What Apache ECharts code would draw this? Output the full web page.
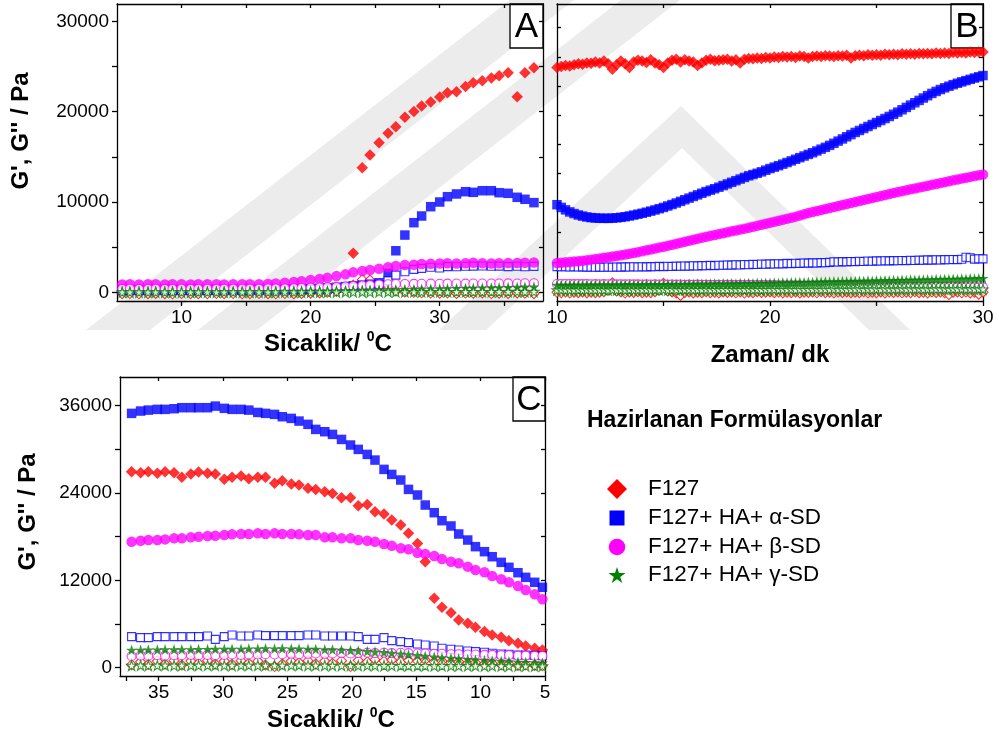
<!DOCTYPE html>
<html>
<head>
<meta charset="utf-8">
<script src="https://cdn.jsdelivr.net/npm/echarts@6/dist/echarts.min.js"></script>
<style>
html, body { margin: 0; padding: 0; background: #fff; }
#chart { width: 999px; height: 735px; }
</style>
</head>
<body>
<div id="chart"></div>
<script>
// ---------- Panel A: heating sweep (temperature, °C) ----------
const tempA = [5.4, 6.0, 6.7, 7.4, 8.0, 8.7, 9.3, 10.0, 10.7, 11.3, 12.0, 12.7, 13.3, 14.0, 14.7, 15.3, 16.0, 16.7, 17.3, 18.0,
  18.7, 19.3, 20.0, 20.7, 21.3, 22.0, 22.7, 23.3, 24.0, 24.6, 25.3, 26.0, 26.6, 27.3, 28.0, 28.6, 29.3, 30.0, 30.6, 31.3,
  32.0, 32.6, 33.3, 34.0, 34.6, 35.3, 36.0, 36.6, 37.3];
const a_F127_Gp = [60, 50, 70, 60, 50, 60, 70, 50, 60, 60, 70, 50, 60, 60, 70, 60, 50, 60, 70, 60,
  60, 80, 70, 90, 100, 150, 300, 4320, 13800, 15200, 16560, 17600, 18330, 19370, 20030, 20620, 21070, 21620, 22100, 22210,
  22800, 23200, 23430, 23720, 23980, 24310, 21650, 24320, 24870];
const a_F127_Gpp = [-150, -140, -160, -150, -130, -150, -160, -140, -150, -150, -160, -140, -150, -140, -160, -150, -140, -150, -160, -140,
  -150, -120, -100, -60, 0, 150, 400, 800, 1400, 1360, 650, 300, 150, 50, 0, -50, -80, -100, -60, -120,
  -80, -100, -60, -140, -100, -120, -60, -100, -150];
const a_alpha_Gp = [300, 320, 300, 310, 330, 320, 300, 310, 320, 330, 310, 320, 330, 340, 320, 330, 350, 340, 360, 370,
  380, 400, 420, 450, 500, 560, 640, 720, 800, 900, 1060, 2100, 4600, 6340, 7710, 8450, 9480, 10000, 10590, 10890,
  11140, 11070, 11250, 11250, 11030, 10960, 10520, 10300, 9930];
const a_alpha_Gpp = [200, 220, 210, 200, 230, 220, 210, 200, 220, 230, 210, 220, 230, 240, 220, 230, 240, 250, 260, 270,
  280, 300, 320, 350, 380, 420, 480, 550, 620, 700, 850, 1300, 1900, 2280, 2540, 2650, 2770, 2700, 2850, 2830,
  2880, 2900, 2920, 2880, 2900, 2850, 2880, 2830, 2870];
const a_beta_Gp = [880, 890, 880, 885, 890, 880, 885, 890, 880, 885, 890, 885, 880, 890, 885, 890, 900, 930, 990, 1060,
  1150, 1230, 1360, 1470, 1620, 1800, 1990, 2210, 2360, 2470, 2610, 2770, 2910, 3020, 3060, 3130, 3170, 3200, 3210, 3200,
  3220, 3280, 3230, 3200, 3220, 3240, 3250, 3280, 3300];
const a_beta_Gpp = [380, 390, 380, 385, 390, 380, 385, 390, 380, 385, 390, 385, 390, 395, 400, 405, 410, 420, 430, 440,
  460, 480, 500, 530, 560, 600, 650, 700, 770, 820, 870, 900, 920, 930, 940, 950, 960, 950, 960, 970,
  960, 970, 980, 970, 980, 990, 980, 1000, 1010];
const a_gamma_Gp = [80, 90, 80, 90, 100, 90, 80, 90, 100, 90, 80, 90, 100, 110, 100, 110, 120, 110, 120, 130,
  140, 150, 160, 170, 180, 200, 210, 230, 250, 260, 280, 300, 320, 330, 350, 370, 390, 400, 420, 440,
  460, 480, 500, 520, 540, 560, 580, 600, 620];
const a_gamma_Gpp = [10, 15, 10, 12, 15, 10, 12, 15, 10, 12, 15, 10, 12, 15, 18, 20, 15, 18, 20, 22,
  25, 20, 25, 30, 28, 30, 35, 40, 45, 40, 50, 55, 50, 55, 60, 55, 60, 65, 60, 65,
  70, 65, 70, 75, 70, 75, 80, 75, 80];

// ---------- Panel B: time sweep at 37 °C (min) ----------
const timeB = [10, 10.2, 10.4, 10.6, 10.8, 11, 11.2, 11.4, 11.6, 11.8,
  12, 12.2, 12.4, 12.6, 12.8, 13, 13.2, 13.4, 13.6, 13.8,
  14, 14.2, 14.4, 14.6, 14.8, 15, 15.2, 15.4, 15.6, 15.8,
  16, 16.2, 16.4, 16.6, 16.8, 17, 17.2, 17.4, 17.6, 17.8,
  18, 18.2, 18.4, 18.6, 18.8, 19, 19.2, 19.4, 19.6, 19.8,
  20, 20.2, 20.4, 20.6, 20.8, 21, 21.2, 21.4, 21.6, 21.8,
  22, 22.2, 22.4, 22.6, 22.8, 23, 23.2, 23.4, 23.6, 23.8,
  24, 24.2, 24.4, 24.6, 24.8, 25, 25.2, 25.4, 25.6, 25.8,
  26, 26.2, 26.4, 26.6, 26.8, 27, 27.2, 27.4, 27.6, 27.8,
  28, 28.2, 28.4, 28.6, 28.8, 29, 29.2, 29.4, 29.6, 29.8, 30];
const b_F127_Gp = [24900, 25000, 25100, 25050, 25200, 25300, 25250, 25400, 25350, 25500,
  25400, 25600, 25300, 24700, 25200, 25600, 25300, 24900, 25500, 25700,
  25600, 25450, 25750, 25400, 25200, 24900, 25400, 25700, 25800, 25500,
  25750, 25600, 25500, 25100, 25400, 25700, 25800, 25650, 25700, 25750,
  25800, 25600, 25750, 25400, 25800, 25900, 25850, 25950, 25900, 26000,
  25950, 26050, 26000, 26100, 26050, 26100, 26000, 26150, 26100, 25950,
  26100, 26150, 26100, 26200, 26150, 26100, 26200, 26150, 26250, 25950,
  26200, 26250, 26200, 26300, 26250, 26300, 26250, 26350, 26300, 26350,
  26300, 26400, 26350, 26400, 26350, 26450, 26400, 26450, 26400, 26500,
  26450, 26500, 26450, 26550, 26500, 26550, 26500, 26600, 26550, 26600, 26600];
const b_F127_Gpp = [0, -50, 30, -80, 20, -40, 50, -60, 10, -30,
  20, 60, 250, 1050, 150, 30, -80, 40, -20, 60,
  -40, 20, -30, 60, 250, 1000, 150, 40, -60, -350,
  -20, 50, -70, 20, -40, 60, -30, 10, -60, 40,
  -10, 50, -50, 30, -80, 20, -40, 60, -20, 10,
  50, -40, 30, -60, 10, -30, 50, -70, 20, -10,
  40, -50, 60, -30, 20, -60, 30, -20, 50, -40,
  10, -30, 60, -50, 20, -40, 50, -60, 30, -20,
  40, -50, 20, -30, 60, -40, 10, -60, 30, -20,
  50, -30, -250, 20, 40, -50, 30, -60, 20, -200, 20];
const b_alpha_Gp = [9700, 9400, 9130, 8900, 8720, 8560, 8440, 8340, 8270, 8230,
  8200, 8190, 8190, 8210, 8250, 8300, 8370, 8450, 8550, 8650,
  8750, 8870, 8990, 9120, 9260, 9400, 9560, 9720, 9890, 10070,
  10250, 10430, 10610, 10790, 10970, 11150, 11310, 11470, 11640, 11820,
  12000, 12180, 12360, 12540, 12720, 12900, 13040, 13180, 13340, 13520,
  13700, 13860, 14020, 14190, 14370, 14550, 14730, 14910, 15090, 15270,
  15450, 15650, 15850, 16050, 16270, 16500, 16740, 16980, 17220, 17460,
  17700, 17920, 18140, 18360, 18580, 18800, 19020, 19240, 19470, 19710,
  19950, 20210, 20470, 20730, 20990, 21250, 21510, 21770, 22020, 22240,
  22450, 22640, 22820, 22990, 23150, 23300, 23440, 23580, 23720, 23860, 24000];
const b_alpha_Gpp = [2850, 2830, 2840, 2810, 2830, 2800, 2820, 2790, 2810, 2780,
  2790, 2770, 2800, 2780, 2810, 2790, 2820, 2800, 2830, 2810,
  2840, 2820, 2850, 2830, 2870, 2850, 2880, 2860, 2900, 2880,
  2920, 2900, 2940, 2920, 2960, 2940, 2980, 2960, 3000, 2990,
  3030, 3010, 3050, 3030, 3080, 3060, 3100, 3080, 3130, 3110,
  3150, 3130, 3170, 3150, 3200, 3180, 3220, 3200, 3240, 3230,
  3260, 3250, 3290, 3270, 3320, 3380, 3350, 3400, 3370, 3420,
  3400, 3440, 3420, 3460, 3440, 3480, 3460, 3500, 3480, 3510,
  3490, 3530, 3510, 3550, 3530, 3570, 3550, 3590, 3570, 3600,
  3580, 3620, 3600, 3640, 3620, 3660, 3880, 3820, 3680, 3720, 3700];
const b_beta_Gp = [3250, 3280, 3320, 3360, 3400, 3450, 3500, 3560, 3620, 3680,
  3750, 3820, 3890, 3960, 4030, 4100, 4180, 4270, 4360, 4450,
  4550, 4650, 4750, 4850, 4950, 5050, 5160, 5270, 5380, 5490,
  5600, 5710, 5820, 5930, 6040, 6150, 6250, 6350, 6450, 6550,
  6650, 6750, 6850, 6950, 7050, 7150, 7260, 7370, 7480, 7590,
  7700, 7810, 7920, 8030, 8140, 8250, 8380, 8510, 8640, 8770,
  8900, 9010, 9120, 9230, 9340, 9450, 9560, 9670, 9780, 9890,
  10000, 10110, 10220, 10330, 10440, 10550, 10660, 10770, 10880, 10990,
  11100, 11200, 11300, 11400, 11500, 11600, 11700, 11800, 11900, 12000,
  12100, 12200, 12300, 12400, 12500, 12600, 12690, 12780, 12870, 12960, 13050];
const b_beta_Gpp = [920, 930, 915, 925, 910, 920, 905, 915, 900, 910,
  895, 905, 890, 900, 885, 895, 880, 890, 875, 885,
  870, 880, 865, 875, 860, 870, 855, 865, 850, 860,
  845, 855, 840, 850, 835, 845, 830, 840, 825, 835,
  820, 830, 815, 825, 810, 820, 805, 815, 800, 810,
  795, 800, 785, 790, 775, 780, 765, 770, 755, 760,
  745, 750, 735, 740, 725, 730, 715, 720, 705, 710,
  695, 700, 685, 690, 675, 680, 665, 670, 655, 660,
  645, 650, 635, 640, 625, 630, 615, 620, 605, 610,
  595, 600, 585, 590, 575, 580, 565, 570, 555, 560, 550];
const b_gamma_Gp = [800, 820, 790, 830, 810, 840, 800, 850, 820, 840,
  830, 860, 820, 870, 840, 860, 850, 880, 840, 870,
  860, 890, 850, 900, 870, 890, 880, 910, 870, 920,
  900, 930, 890, 940, 910, 950, 920, 960, 930, 970,
  950, 980, 960, 1000, 970, 1010, 990, 1030, 1000, 1040,
  1020, 1060, 1040, 1080, 1060, 1100, 1080, 1120, 1100, 1140,
  1120, 1160, 1140, 1180, 1160, 1200, 1180, 1220, 1200, 1240,
  1220, 1260, 1240, 1280, 1260, 1300, 1280, 1320, 1300, 1340,
  1320, 1360, 1340, 1380, 1360, 1400, 1380, 1420, 1400, 1440,
  1420, 1460, 1440, 1480, 1460, 1500, 1480, 1520, 1500, 1540, 1550];
const b_gamma_Gpp = [250, 270, 240, 260, 250, 280, 240, 270, 250, 260,
  260, 280, 250, 270, 260, 290, 250, 280, 260, 270,
  270, 290, 260, 280, 270, 300, 260, 290, 270, 280,
  280, 300, 270, 290, 280, 310, 270, 300, 280, 290,
  290, 310, 280, 300, 290, 320, 280, 310, 290, 300,
  300, 320, 290, 310, 300, 330, 290, 320, 300, 310,
  310, 330, 300, 320, 310, 340, 300, 330, 310, 320,
  320, 340, 310, 330, 320, 350, 310, 340, 320, 330,
  330, 350, 320, 340, 330, 360, 320, 350, 330, 340,
  340, 360, 330, 350, 340, 370, 330, 360, 340, 350, 350];

// ---------- Panel C: cooling sweep (temperature, °C) ----------
const tempC = [37.1, 36.4, 35.8, 35.1, 34.5, 33.8, 33.2, 32.5, 31.9, 31.2, 30.6, 29.9, 29.3, 28.6, 28.0, 27.3, 26.7, 26.0, 25.4, 24.7,
  24.1, 23.4, 22.8, 22.1, 21.5, 20.8, 20.1, 19.5, 18.8, 18.2, 17.5, 16.9, 16.2, 15.6, 14.9, 14.3, 13.6, 13.0, 12.3, 11.7,
  11.0, 10.4, 9.7, 9.1, 8.4, 7.8, 7.1, 6.5, 5.8, 5.2];
const c_F127_Gp = [26930, 26800, 26930, 26710, 26930, 26800, 26160, 26620, 26890, 26710, 26620, 25880, 26160, 26340, 25980, 26160, 26160, 25330, 25700, 25240,
  25100, 24650, 24500, 24180, 23950, 23360, 23360, 22260, 22440, 21430, 21110, 20290, 19600, 18460, 17080, 14560, 9530, 8290, 7560, 6550,
  6090, 5540, 4950, 4490, 4170, 3710, 3340, 2980, 2660, 2430];
const c_F127_Gpp = [400, 800, 450, 900, 500, 950, 350, 900, 600, 950, 500, 900, 450, 950, 600, 900, 350, 150, 500, 900,
  700, 950, 500, 900, 600, 950, 150, 1000, 800, 1100, 900, 1050, 800, 1000, 900, 1050, 800, 900, 700, 800,
  600, 700, 500, 600, 400, 500, 300, 400, 300, 250];
const c_alpha_Gp = [34950, 35270, 35400, 35500, 35500, 35590, 35730, 35730, 35730, 35730, 35950, 35640, 35500, 35500, 35400, 35080, 34950, 34810, 34490, 34260,
  33890, 33440, 32750, 32430, 32060, 31370, 30600, 30000, 29310, 28530, 27250, 26560, 25790, 24500, 23730, 22350, 21300, 20200, 19470, 18370,
  17540, 16630, 15940, 15250, 14470, 13790, 13050, 12410, 11730, 11040];
const c_alpha_Gpp = [4260, 4120, 4120, 4260, 4260, 4260, 4260, 4260, 4260, 4350, 3890, 4260, 4490, 4350, 4350, 4490, 4400, 4400, 4400, 4400,
  4400, 4490, 4490, 4350, 4350, 4350, 4350, 4260, 3890, 3890, 4120, 3710, 3570, 3440, 3250, 3110, 2980, 2660, 2520, 2430,
  2290, 2200, 2110, 1970, 1880, 1830, 1740, 1740, 1690, 1650];
const c_beta_Gp = [17310, 17450, 17540, 17540, 17630, 17770, 17770, 17910, 18000, 18090, 18140, 18230, 18320, 18370, 18370, 18460, 18370, 18460, 18370, 18370,
  18320, 18230, 18230, 17910, 17910, 17770, 17770, 17540, 17450, 17310, 16990, 16760, 16400, 16260, 15800, 15620, 15340, 14930, 14560, 14340,
  13880, 13420, 13100, 12600, 12140, 11730, 11220, 10670, 10080, 9390];
const c_beta_Gpp = [1600, 1650, 1650, 1700, 1650, 1700, 1700, 1750, 1700, 1750, 1700, 1750, 1800, 1750, 1800, 1800, 1850, 1800, 1850, 1900,
  1850, 1900, 1950, 1900, 1950, 2000, 1950, 2000, 2050, 2000, 2050, 2000, 2050, 2000, 1950, 1950, 1900, 1900, 1850, 1850,
  1800, 1800, 1750, 1750, 1700, 1700, 1650, 1650, 1600, 1600];
const c_gamma_Gp = [2430, 2430, 2450, 2450, 2480, 2480, 2500, 2500, 2520, 2520, 2550, 2550, 2570, 2570, 2600, 2600, 2620, 2600, 2620, 2600,
  2580, 2560, 2540, 2500, 2470, 2430, 2380, 2320, 2250, 2180, 2100, 2000, 1900, 1800, 1700, 1600, 1500, 1400, 1320, 1240,
  1160, 1080, 1010, 950, 890, 830, 780, 730, 690, 650];
const c_gamma_Gpp = [300, 320, 300, 310, 320, 300, 310, 320, 300, 310, 320, 310, 300, 320, 310, 300, 320, 310, 300, 310,
  320, 300, 310, 300, 290, 300, 290, 280, 290, 280, 270, 280, 270, 260, 270, 260, 250, 260, 250, 240,
  250, 240, 230, 240, 230, 220, 230, 220, 210, 220];

// ---------- Axis tick labels ----------
const xLabelsA = [10, 20, 30];
const xLabelsB = [10, 20, 30];
const xLabelsC = [35, 30, 25, 20, 15, 10, 5];
const yLabelsA = [0, 10000, 20000, 30000];
const yLabelsC = [0, 12000, 24000, 36000];

// ---------- Legend entries ----------
const legendTitle = 'Hazirlanan Formülasyonlar';
const legendNames = ['F127', 'F127+ HA+ α-SD', 'F127+ HA+ β-SD', 'F127+ HA+ γ-SD'];

// ---------- drawing ----------
const FONT = "'Liberation Sans', Arial, Helvetica, sans-serif";
const RED = '#ff0000', BLUE = '#0000ff', MAG = '#ff00ff', GREEN = '#008000';
// five-pointed star outline in a 100x100 box
const STAR_PTS = [[50, 2], [61.2, 36.5], [97.6, 36.5], [68.2, 57.9], [79.4, 92.5], [50, 71.1], [20.6, 92.5], [31.8, 57.9], [2.4, 36.5], [38.8, 36.5]];
const STAR = 'path://M' + STAR_PTS.map(p => p[0] + ',' + p[1]).join(' L') + ' Z';

const range = (a, b, s) => { const r = []; for (let v = a; v <= b + 1e-9; v += s) r.push(Math.round(v * 100) / 100); return r; };

function scatter(name, axis, xs, ys, symbol, size, color, open) {
  return {
    type: 'scatter', name: name,
    xAxisIndex: axis, yAxisIndex: axis,
    data: xs.map((x, i) => [x, ys[i]]),
    symbol: symbol, symbolSize: size,
    itemStyle: open ? { color: '#fff', borderColor: color, borderWidth: 1.1 } : { color: color, borderWidth: 0 },
    emphasis: { disabled: true }, silent: true, animation: false
  };
}

// eight series per panel: F127 G', F127 G'', α G', α G'', β G', β G'', γ G', γ G''
function panelSeries(axis, xs, d) {
  return [
    scatter(legendNames[0] + " G'", axis, xs, d[0], 'diamond', 11.5, RED, false),
    scatter(legendNames[0] + " G''", axis, xs, d[1], 'diamond', 10, RED, true),
    scatter(legendNames[1] + " G'", axis, xs, d[2], 'rect', 9.5, BLUE, false),
    scatter(legendNames[1] + " G''", axis, xs, d[3], 'rect', 8, BLUE, true),
    scatter(legendNames[2] + " G'", axis, xs, d[4], 'circle', 10.5, MAG, false),
    scatter(legendNames[2] + " G''", axis, xs, d[5], 'circle', 9, MAG, true),
    scatter(legendNames[3] + " G'", axis, xs, d[6], STAR, 11, GREEN, false),
    scatter(legendNames[3] + " G''", axis, xs, d[7], STAR, 10, GREEN, true)
  ];
}

const lineStyle = { color: '#000', width: 1.3 };
const labelStyle = { color: '#000', fontSize: 19, fontFamily: FONT, formatter: v => String(v) };

function mainX(grid, min, max, labels, ticks, inverse) {
  return {
    type: 'value', gridIndex: grid, position: 'bottom', min: min, max: max, inverse: !!inverse,
    axisLine: { show: true, onZero: false, lineStyle: lineStyle },
    axisTick: { show: true, inside: false, length: 5, lineStyle: lineStyle, customValues: ticks },
    axisLabel: Object.assign({ show: true, margin: 7, customValues: labels, hideOverlap: false, showMinLabel: true, showMaxLabel: true }, labelStyle),
    splitLine: { show: false }
  };
}
function mainY(grid, min, max, labels, ticks, inside) {
  return {
    type: 'value', gridIndex: grid, position: 'left', min: min, max: max,
    axisLine: { show: true, onZero: false, lineStyle: lineStyle },
    axisTick: { show: true, inside: !!inside, length: inside ? 4 : 5, lineStyle: lineStyle, customValues: ticks },
    axisLabel: Object.assign({ show: labels.length > 0, margin: 8, customValues: labels.length ? labels : [0], hideOverlap: false, showMinLabel: true, showMaxLabel: true }, labelStyle),
    splitLine: { show: false }
  };
}
function frameX(grid, min, max, ticks, inverse) {
  return {
    type: 'value', gridIndex: grid, position: 'top', min: min, max: max, inverse: !!inverse,
    axisLine: { show: true, onZero: false, lineStyle: lineStyle },
    axisTick: { show: true, inside: true, length: 4, lineStyle: lineStyle, customValues: ticks },
    axisLabel: { show: false }, splitLine: { show: false }
  };
}
function frameY(grid, min, max, ticks) {
  return {
    type: 'value', gridIndex: grid, position: 'right', min: min, max: max,
    axisLine: { show: true, onZero: false, lineStyle: lineStyle },
    axisTick: { show: true, inside: true, length: 4, lineStyle: lineStyle, customValues: ticks },
    axisLabel: { show: false }, splitLine: { show: false }
  };
}

const yMinAB = -960, yMaxAB = 31920;
const yMinC = -1150, yMaxC = 39950;
const ticksYA = range(0, 30000, 5000);
const ticksYB = [240, 3470, 6700, 9930, 13160, 16390, 19620, 22850, 26080, 29310];
const ticksYC = range(0, 36000, 6000);

const option = {
  backgroundColor: '#fff',
  animation: false,
  textStyle: { fontFamily: FONT },
  grid: [
    { left: 117, top: 4, width: 426, height: 297 },
    { left: 557, top: 4, width: 426, height: 297 },
    { left: 120, top: 377, width: 425, height: 299 }
  ],
  xAxis: [
    mainX(0, 5, 38, xLabelsA, range(10, 35, 5)),
    mainX(1, 10, 30, xLabelsB, range(10, 30, 5)),
    mainX(2, 5, 38, xLabelsC, range(5, 37.5, 2.5), true),
    frameX(0, 5, 38, range(10, 35, 5)),
    frameX(1, 10, 30, range(15, 25, 5)),
    frameX(2, 5, 38, range(5, 35, 5), true)
  ],
  yAxis: [
    mainY(0, yMinAB, yMaxAB, yLabelsA, ticksYA, false),
    mainY(1, yMinAB, yMaxAB, [], ticksYB, true),
    mainY(2, yMinC, yMaxC, yLabelsC, ticksYC, false),
    frameY(0, yMinAB, yMaxAB, ticksYA),
    frameY(1, yMinAB, yMaxAB, ticksYB),
    frameY(2, yMinC, yMaxC, ticksYC)
  ],
  series: [].concat(
    panelSeries(0, tempA, [a_F127_Gp, a_F127_Gpp, a_alpha_Gp, a_alpha_Gpp, a_beta_Gp, a_beta_Gpp, a_gamma_Gp, a_gamma_Gpp]),
    panelSeries(1, timeB, [b_F127_Gp, b_F127_Gpp, b_alpha_Gp, b_alpha_Gpp, b_beta_Gp, b_beta_Gpp, b_gamma_Gp, b_gamma_Gpp]),
    panelSeries(2, tempC, [c_F127_Gp, c_F127_Gpp, c_alpha_Gp, c_alpha_Gpp, c_beta_Gp, c_beta_Gpp, c_gamma_Gp, c_gamma_Gpp])
  ),
  graphic: []
};

// faint diagonal background bands behind the upper panels
const BAND = '#ececec';
option.graphic.push({
  type: 'group', z: -10, silent: true,
  children: [
    { type: 'polygon', shape: { points: [[86, 330], [150, 330], [574, 0], [510, 0]] }, style: { fill: BAND } },
    { type: 'polygon', shape: { points: [[198, 330], [257, 330], [680, 0], [621, 0]] }, style: { fill: BAND } },
    { type: 'polygon', shape: { points: [[439, 330], [681, 106], [910, 330], [869, 330], [682, 148], [486, 330]] }, style: { fill: BAND } }
  ]
});

// axis titles
const titleRich = {
  b: { fontFamily: FONT, fontSize: 24, fontWeight: 'bold', fill: '#000', lineHeight: 27 },
  s: { fontFamily: FONT, fontSize: 14, fontWeight: 'bold', fill: '#000', verticalAlign: 'top', lineHeight: 14 }
};
function title(text, x, y, rotate) {
  return {
    type: 'text', x: x, y: y, rotation: rotate ? Math.PI / 2 : 0, z: 10,
    style: { text: text, rich: titleRich, align: 'center', verticalAlign: 'middle', fontFamily: FONT, fontSize: 24, fontWeight: 'bold', fill: '#000' }
  };
}
option.graphic.push(
  title('{b|Sicaklik/ }{s|0}{b|C}', 328, 344),
  title('{b|Zaman/ dk}', 770, 355),
  title('{b|Sicaklik/ }{s|0}{b|C}', 331, 720),
  title("{b|G', G'' / Pa}", 21, 131, true),
  title("{b|G', G'' / Pa}", 28, 512, true)
);

// panel letters in boxes
function letterBox(letter, x, y, w, h) {
  return {
    type: 'group', x: x, y: y, z: 20,
    children: [
      { type: 'rect', shape: { x: 0, y: 0, width: w, height: h }, style: { fill: '#fff', stroke: '#000', lineWidth: 1.3 } },
      { type: 'text', x: w / 2, y: h / 2 + 1, style: { text: letter, align: 'center', verticalAlign: 'middle', fontFamily: FONT, fontSize: 35, fill: '#000' } }
    ]
  };
}
option.graphic.push(
  letterBox('A', 510, 4, 33, 44),
  letterBox('B', 951, 4, 32, 44),
  letterBox('C', 513, 377, 32, 44)
);

// legend block
const legendY = [489, 518, 547, 575];
const starScale = 17 / 95.2;
const legendMarks = [
  { type: 'polygon', shape: { points: [[0, -10], [10, 0], [0, 10], [-10, 0]] }, style: { fill: RED } },
  { type: 'rect', shape: { x: -7.5, y: -7.5, width: 15, height: 15 }, style: { fill: BLUE } },
  { type: 'circle', shape: { cx: 0, cy: 0, r: 8.3 }, style: { fill: MAG } },
  { type: 'polygon', shape: { points: STAR_PTS.map(p => [(p[0] - 50) * starScale, (p[1] - 47.25) * starScale]) }, style: { fill: GREEN } }
];
option.graphic.push({
  type: 'text', x: 587, y: 421, z: 10,
  style: { text: legendTitle, align: 'left', verticalAlign: 'middle', fontFamily: FONT, fontSize: 23, fontWeight: 'bold', fill: '#000' }
});
legendNames.forEach((name, i) => {
  option.graphic.push({
    type: 'group', x: 617, y: legendY[i], z: 10,
    children: [
      legendMarks[i],
      { type: 'text', x: 31, y: 0, style: { text: name, align: 'left', verticalAlign: 'middle', fontFamily: FONT, fontSize: 22.5, fill: '#000' } }
    ]
  });
});

const chart = echarts.init(document.getElementById('chart'), null, { renderer: 'canvas', width: 999, height: 735 });
chart.setOption(option);
</script>
</body>
</html>
